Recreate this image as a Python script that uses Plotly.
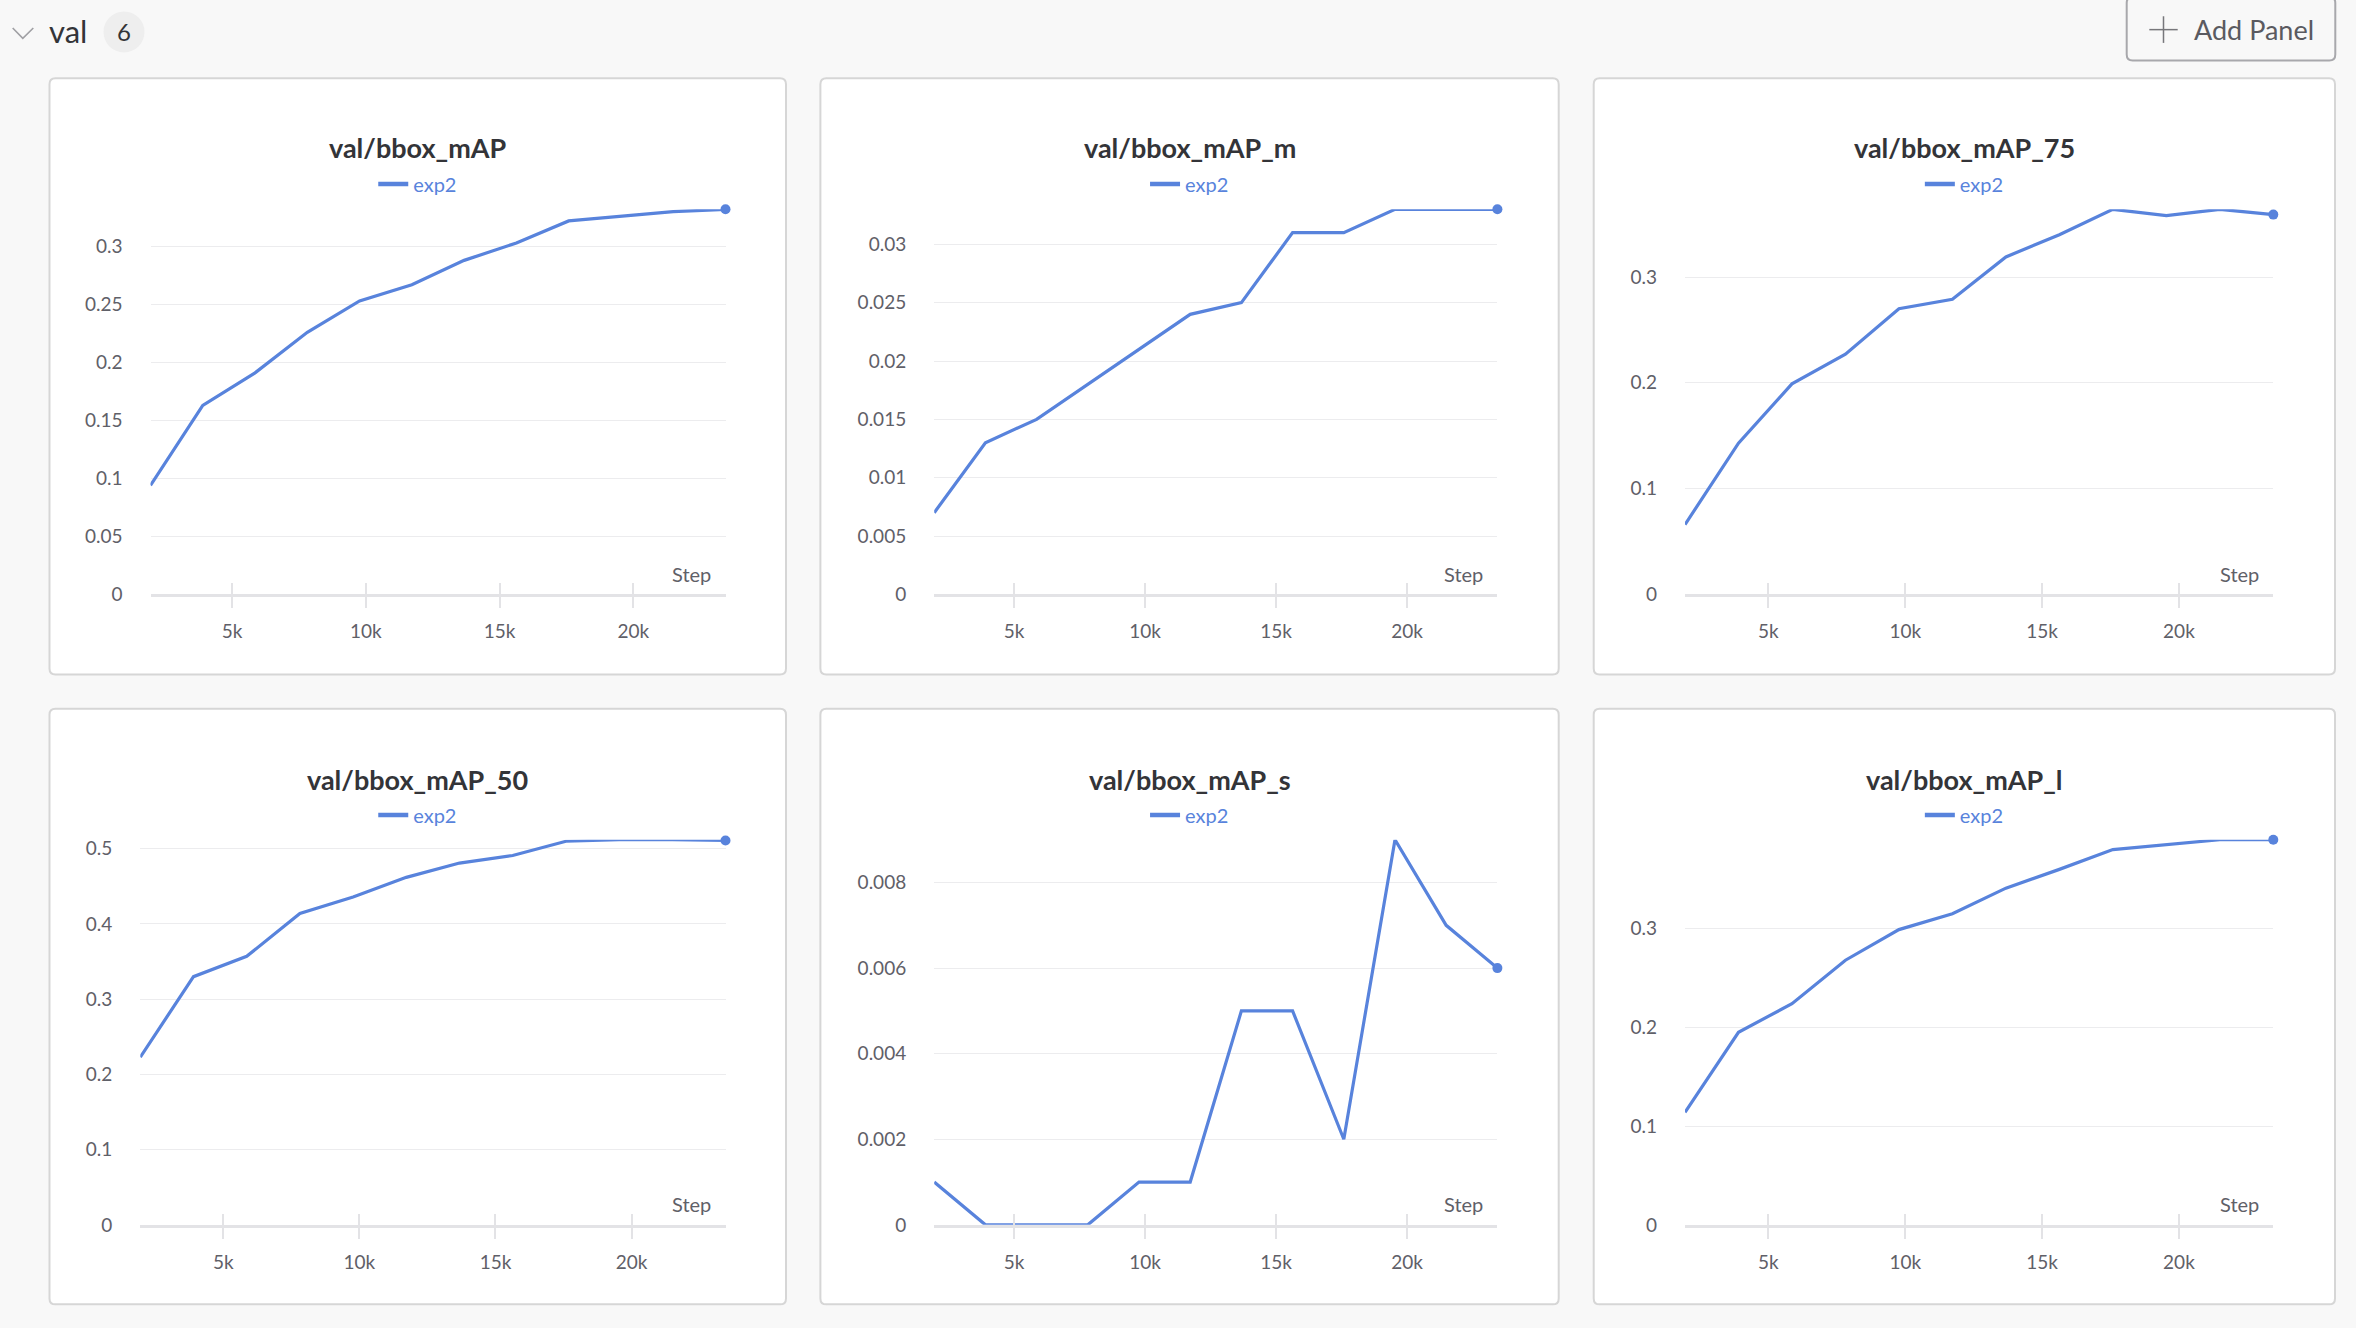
import plotly.graph_objects as go

W, H = 2356, 1328
K = 1.0083  # small vertical correction measured against the reference screenshot

# ---------------- data ----------------
steps = [1954, 3908, 5862, 7816, 9770, 11724, 13678, 15632, 17586, 19540, 21494, 23448]

bbox_mAP = [0.094, 0.163, 0.191, 0.226, 0.253, 0.267, 0.288, 0.303, 0.322, 0.326, 0.330, 0.332]
bbox_mAP_m = [0.007, 0.013, 0.015, 0.018, 0.021, 0.024, 0.025, 0.031, 0.031, 0.033, 0.033, 0.033]
bbox_mAP_75 = [0.066, 0.143, 0.199, 0.227, 0.270, 0.279, 0.319, 0.340, 0.364, 0.358, 0.364, 0.359]
bbox_mAP_50 = [0.223, 0.330, 0.357, 0.414, 0.436, 0.462, 0.481, 0.491, 0.510, 0.512, 0.512, 0.511]
bbox_mAP_s = [0.001, 0.0, 0.0, 0.0, 0.001, 0.001, 0.005, 0.005, 0.002, 0.009, 0.007, 0.006]
bbox_mAP_l = [0.114, 0.195, 0.224, 0.268, 0.299, 0.315, 0.341, 0.360, 0.380, 0.385, 0.390, 0.390]

titles = ["val/bbox_mAP", "val/bbox_mAP_m", "val/bbox_mAP_75",
          "val/bbox_mAP_50", "val/bbox_mAP_s", "val/bbox_mAP_l"]
series_name = "exp2"

x_tickvals = [5000, 10000, 15000, 20000]
x_ticktext = ["5k", "10k", "15k", "20k"]

yt_mAP = [0, 0.05, 0.1, 0.15, 0.2, 0.25, 0.3]
yl_mAP = ["0", "0.05", "0.1", "0.15", "0.2", "0.25", "0.3"]
yt_m = [0, 0.005, 0.01, 0.015, 0.02, 0.025, 0.03]
yl_m = ["0", "0.005", "0.01", "0.015", "0.02", "0.025", "0.03"]
yt_75 = [0, 0.1, 0.2, 0.3]
yl_75 = ["0", "0.1", "0.2", "0.3"]
yt_50 = [0, 0.1, 0.2, 0.3, 0.4, 0.5]
yl_50 = ["0", "0.1", "0.2", "0.3", "0.4", "0.5"]
yt_s = [0, 0.002, 0.004, 0.006, 0.008]
yl_s = ["0", "0.002", "0.004", "0.006", "0.008"]
yt_l = [0, 0.1, 0.2, 0.3]
yl_l = ["0", "0.1", "0.2", "0.3"]

values = [bbox_mAP, bbox_mAP_m, bbox_mAP_75, bbox_mAP_50, bbox_mAP_s, bbox_mAP_l]
yticks = [(yt_mAP, yl_mAP), (yt_m, yl_m), (yt_75, yl_75),
          (yt_50, yl_50), (yt_s, yl_s), (yt_l, yl_l)]

# ---------------- geometry (design pixels on a 2356x1328 page) ----------------
BLUE = "rgb(88,131,220)"
TXT = "#5f6068"
DARK = "#333438"
BG = "#f8f8f8"
FONT = "Lato"

panel_x = [(49.5, 786), (820.4, 1558.7), (1593.7, 2335)]
panel_y = [(75.5, 673), (707.3, 1304.4)]
plot_x = [(150.5, 725.5), (934.2, 1497.4), (1685, 2273.3),
          (140.3, 725.5), (934.2, 1497.4), (1685, 2273.3)]
plot_y = [(206.8, 592.8), (838.7, 1224.7)]
title_y = [145, 778]
legend_y = [181.5, 814]
step_y = [572, 1204]


def fx(x):
    return x / W


def fy(y):
    return 1 - (y * K) / H


def rrect(x0, y0, x1, y1, r):
    pts = [
        ("M", fx(x0 + r), fy(y0)),
        ("L", fx(x1 - r), fy(y0)),
        ("Q", fx(x1), fy(y0), fx(x1), fy(y0 + r)),
        ("L", fx(x1), fy(y1 - r)),
        ("Q", fx(x1), fy(y1), fx(x1 - r), fy(y1)),
        ("L", fx(x0 + r), fy(y1)),
        ("Q", fx(x0), fy(y1), fx(x0), fy(y1 - r)),
        ("L", fx(x0), fy(y0 + r)),
        ("Q", fx(x0), fy(y0), fx(x0 + r), fy(y0)),
    ]
    s = ""
    for p in pts:
        cmd = p[0]
        nums = p[1:]
        coords = " ".join(f"{nums[i]:.6f},{nums[i + 1]:.6f}" for i in range(0, len(nums), 2))
        s += f"{cmd} {coords} "
    return s + "Z"


fig = go.Figure()
shapes = []
annotations = []
layout = dict(
    width=W, height=H,
    margin=dict(l=0, r=0, t=0, b=0, pad=0),
    paper_bgcolor=BG,
    plot_bgcolor="white",
    font=dict(family=FONT, color=TXT),
    hovermode=False,
)

for i in range(6):
    n = i + 1
    row, col = divmod(i, 3)
    px0, px1 = panel_x[col]
    py0, py1 = panel_y[row]
    shapes.append(dict(type="path", path=rrect(px0, py0, px1, py1, 6), xref="paper", yref="paper",
                       line=dict(color="#d6d6d6", width=2), fillcolor="white", layer="below"))

    xa, ya = ("x" if n == 1 else f"x{n}"), ("y" if n == 1 else f"y{n}")
    xo = f"x{n + 6}"
    lg = "legend" if n == 1 else f"legend{n}"
    vals = values[i]

    fig.add_trace(go.Scatter(x=steps, y=vals, mode="lines", name=series_name,
                             line=dict(color=BLUE, width=3.2), xaxis=xa, yaxis=ya,
                             showlegend=False, cliponaxis=False))
    fig.add_trace(go.Scatter(x=[steps[-1]], y=[vals[-1]], mode="markers",
                             marker=dict(color=BLUE, size=10), xaxis=xa, yaxis=ya,
                             showlegend=False, cliponaxis=False))
    # legend entry (no data drawn)
    fig.add_trace(go.Scatter(x=[None], y=[None], mode="lines", name=series_name,
                             line=dict(color=BLUE, width=4.5), xaxis=xa, yaxis=ya,
                             legend=lg, showlegend=True))
    fig.add_trace(go.Scatter(x=[], y=[], mode="lines", xaxis=xo, yaxis=ya, showlegend=False))

    x0, x1 = plot_x[i]
    yt, yb = plot_y[row]
    xdom = [fx(x0), fx(x1)]
    ydom = [fy(yb), fy(yt)]
    xkey = "xaxis" if n == 1 else f"xaxis{n}"
    ykey = "yaxis" if n == 1 else f"yaxis{n}"

    layout[xkey] = dict(domain=xdom, anchor=ya, range=[steps[0], steps[-1]],
                        tickmode="array", tickvals=x_tickvals, ticktext=x_ticktext,
                        ticks="outside", ticklen=11, tickwidth=2, tickcolor="#e3e3e6",
                        showline=True, linecolor="#e3e3e6", linewidth=3,
                        showgrid=False, zeroline=False,
                        tickfont=dict(family=FONT, size=19, color=TXT),
                        ticklabelstandoff=7, fixedrange=True)
    layout[f"xaxis{n + 6}"] = dict(domain=xdom, anchor=ya, overlaying=xa, side="bottom",
                                   range=[steps[0], steps[-1]],
                                   tickmode="array", tickvals=x_tickvals,
                                   ticks="inside", ticklen=11, tickwidth=2, tickcolor="#e3e3e6",
                                   showticklabels=False, showgrid=False, showline=False,
                                   zeroline=False, fixedrange=True)
    tv, tt = yticks[i]
    layout[ykey] = dict(domain=ydom, anchor=xa, range=[0, max(vals)],
                        tickmode="array", tickvals=tv, ticktext=tt,
                        showgrid=True, gridcolor="#ececee", gridwidth=1,
                        zeroline=False, showline=False, ticks="",
                        tickfont=dict(family=FONT, size=19, color=TXT),
                        ticklabelstandoff=27, fixedrange=True)

    cx = (px0 + px1) / 2
    layout[lg] = dict(x=fx(cx), y=fy(legend_y[row]), xanchor="center", yanchor="middle",
                      orientation="h", bgcolor="rgba(0,0,0,0)", borderwidth=0,
                      font=dict(family=FONT, size=20, color=BLUE), itemwidth=30)

    annotations.append(dict(text=f"<b>{titles[i]}</b>", x=fx(cx), y=fy(title_y[row]),
                            xref="paper", yref="paper", xanchor="center", yanchor="middle",
                            showarrow=False, font=dict(family=FONT, size=27, color=DARK)))
    annotations.append(dict(text="Step", x=fx(x1 - 12.5), y=fy(step_y[row]),
                            xref="paper", yref="paper", xanchor="right", yanchor="middle",
                            showarrow=False, font=dict(family=FONT, size=20, color=TXT)))

# header
shapes.append(dict(type="path", xref="paper", yref="paper",
                   path=f"M {fx(12.7):.6f},{fy(25):.6f} L {fx(22.8):.6f},{fy(35.5):.6f} L {fx(33.3):.6f},{fy(25):.6f}",
                   line=dict(color="#a0a0a4", width=1.6)))
shapes.append(dict(type="circle", xref="paper", yref="paper",
                   x0=fx(103.5), x1=fx(144.5), y0=fy(49.5), y1=fy(8.5),
                   fillcolor="#eeeeee", line=dict(width=0)))
annotations.append(dict(text="val", x=fx(47), y=fy(28), xref="paper", yref="paper",
                        xanchor="left", yanchor="middle", showarrow=False,
                        font=dict(family=FONT, size=31, color=DARK)))
annotations.append(dict(text="6", x=fx(124), y=fy(29), xref="paper", yref="paper",
                        xanchor="center", yanchor="middle", showarrow=False,
                        font=dict(family=FONT, size=24, color=DARK)))
# Add Panel button
shapes.append(dict(type="path", xref="paper", yref="paper",
                   path=rrect(2126.7, -6, 2335.3, 57.7, 6),
                   line=dict(color="#a8a8ac", width=2), fillcolor="rgba(0,0,0,0)"))
shapes.append(dict(type="line", xref="paper", yref="paper",
                   x0=fx(2149.3), x1=fx(2177.7), y0=fy(26.7), y1=fy(26.7),
                   line=dict(color="#77777b", width=1.5)))
shapes.append(dict(type="line", xref="paper", yref="paper",
                   x0=fx(2163.5), x1=fx(2163.5), y0=fy(13.3), y1=fy(40),
                   line=dict(color="#77777b", width=1.5)))
annotations.append(dict(text="Add Panel", x=fx(2192), y=fy(27), xref="paper", yref="paper",
                        xanchor="left", yanchor="middle", showarrow=False,
                        font=dict(family=FONT, size=27, color="#5a5a60")))

layout["shapes"] = shapes
layout["annotations"] = annotations
fig.update_layout(**layout)

page_fix = (
    "var de=document.documentElement,b=document.body;"
    "de.style.margin='0';de.style.padding='0';de.style.overflow='hidden';de.style.background='" + BG + "';"
    "b.style.margin='0';b.style.padding='0';b.style.overflow='hidden';b.style.background='" + BG + "';"
    "b.style.fontSize='0';b.style.lineHeight='0';"
)
fig.write_html("out.html", config={"displayModeBar": False},
               post_script=page_fix)
